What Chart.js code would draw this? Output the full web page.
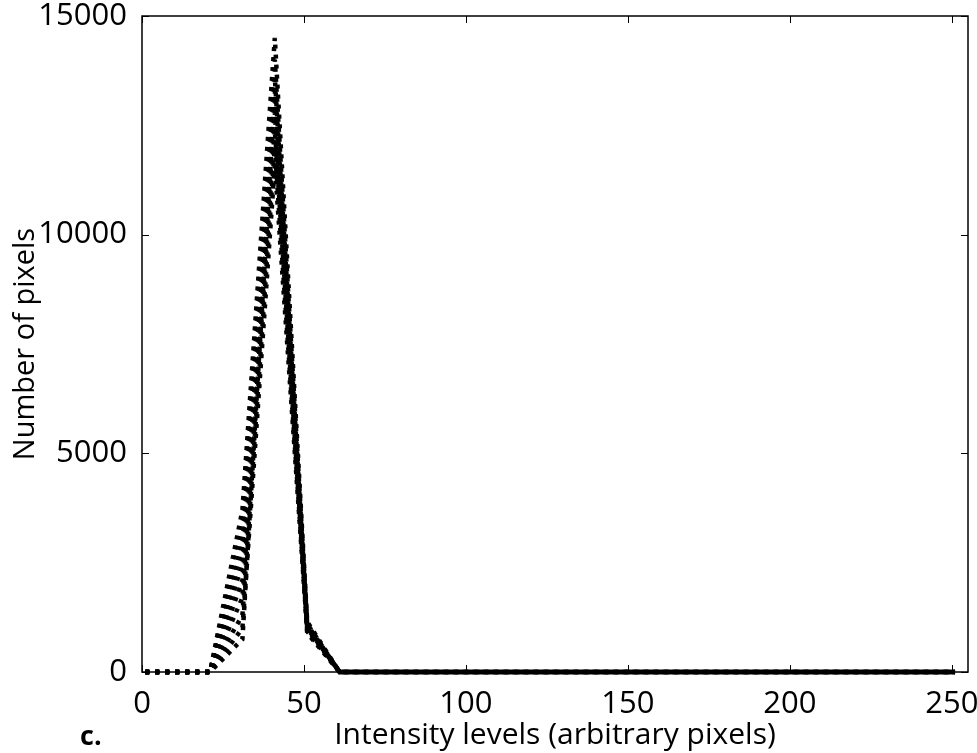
<!DOCTYPE html>
<html>
<head>
<meta charset="utf-8">
<script src="https://cdn.jsdelivr.net/npm/chart.js@4.4.0/dist/chart.umd.min.js"></script>
<style>
  body { margin: 0; background: #fff; }
  #wrap { position: relative; width: 977px; height: 753px; overflow: hidden; }
  #tag { position: absolute; left: 80px; top: 716px; font: bold 27px "Open Sans", sans-serif; color: #000; }
</style>
</head>
<body>
<div id="wrap">
  <canvas id="histChart" width="977" height="753"></canvas>
  <div id="tag">c.</div>
</div>
<script>
// intensity bins (x)
const levels = [1, 11, 21, 31, 41, 51, 61, 71, 81, 91, 101, 111, 121, 131, 141, 151, 161, 171, 181, 191, 201, 211, 221, 231, 241, 251];

// pixel counts per bin, one array per image
const img1 = [0, 0, 0, 3700, 14500, 1150, 0, 0, 0, 0, 0, 0, 0, 0, 0, 0, 0, 0, 0, 0, 0, 0, 0, 0, 0, 0];
const img2 = [0, 0, 0, 3300, 14000, 1100, 0, 0, 0, 0, 0, 0, 0, 0, 0, 0, 0, 0, 0, 0, 0, 0, 0, 0, 0, 0];
const img3 = [0, 0, 0, 2900, 13600, 1080, 0, 0, 0, 0, 0, 0, 0, 0, 0, 0, 0, 0, 0, 0, 0, 0, 0, 0, 0, 0];
const img4 = [0, 0, 0, 2500, 13200, 1050, 0, 0, 0, 0, 0, 0, 0, 0, 0, 0, 0, 0, 0, 0, 0, 0, 0, 0, 0, 0];
const img5 = [0, 0, 0, 2100, 12800, 1020, 0, 0, 0, 0, 0, 0, 0, 0, 0, 0, 0, 0, 0, 0, 0, 0, 0, 0, 0, 0];
const img6 = [0, 0, 0, 1700, 12400, 1000, 0, 0, 0, 0, 0, 0, 0, 0, 0, 0, 0, 0, 0, 0, 0, 0, 0, 0, 0, 0];
const img7 = [0, 0, 0, 1300, 12000, 960, 0, 0, 0, 0, 0, 0, 0, 0, 0, 0, 0, 0, 0, 0, 0, 0, 0, 0, 0, 0];
const img8 = [0, 0, 0, 1000, 11600, 930, 0, 0, 0, 0, 0, 0, 0, 0, 0, 0, 0, 0, 0, 0, 0, 0, 0, 0, 0, 0];
const img9 = [0, 0, 0, 750, 13300, 890, 0, 0, 0, 0, 0, 0, 0, 0, 0, 0, 0, 0, 0, 0, 0, 0, 0, 0, 0, 0];

const xTicks = [0, 50, 100, 150, 200, 250];
const yTicks = [0, 5000, 10000, 15000];

const fontFace = '"Open Sans", sans-serif';

function toPoints(vals) {
  return vals.map((v, i) => ({ x: levels[i], y: v }));
}

function dotted(vals) {
  return {
    data: toPoints(vals),
    borderColor: '#000',
    borderWidth: 4.5,
    borderDash: [4, 6],
    borderCapStyle: 'butt',
    pointRadius: 0,
    fill: false,
    tension: 0,
    clip: false
  };
}

// MATLAB-style box with inward ticks on every side
const boxTicks = {
  id: 'boxTicks',
  afterDatasetsDraw(chart) {
    const { ctx, chartArea: a, scales: { x, y } } = chart;
    const len = 7;
    ctx.save();
    ctx.strokeStyle = '#000';
    ctx.lineWidth = 1.5;
    ctx.strokeRect(a.left, a.top, a.right - a.left, a.bottom - a.top);
    ctx.lineWidth = 1;
    ctx.beginPath();
    xTicks.forEach(t => {
      const px = Math.round(x.getPixelForValue(t)) + 0.5;
      ctx.moveTo(px, a.bottom); ctx.lineTo(px, a.bottom - len);
      ctx.moveTo(px, a.top); ctx.lineTo(px, a.top + len);
    });
    yTicks.forEach(t => {
      const py = Math.round(y.getPixelForValue(t)) + 0.5;
      ctx.moveTo(a.left, py); ctx.lineTo(a.left + len, py);
      ctx.moveTo(a.right, py); ctx.lineTo(a.right - len, py);
    });
    ctx.stroke();
    ctx.restore();
  }
};

const ctx = document.getElementById('histChart').getContext('2d');
const chart = new Chart(ctx, {
  type: 'line',
  data: {
    datasets: [img1, img2, img3, img4, img5, img6, img7, img8, img9].map(dotted)
  },
  options: {
    responsive: false,
    animation: false,
    layout: { padding: { left: 8, right: 9, top: 16, bottom: 0 } },
    plugins: {
      legend: { display: false },
      tooltip: { enabled: false }
    },
    scales: {
      x: {
        type: 'linear',
        min: 0,
        max: 255,
        grid: { display: false },
        border: { display: false },
        ticks: {
          stepSize: 50,
          includeBounds: false,
          maxRotation: 0,
          padding: 6,
          color: '#000',
          font: { family: fontFace, size: 31 }
        },
        title: {
          display: true,
          text: 'Intensity levels (arbitrary pixels)',
          color: '#000',
          font: { family: fontFace, size: 30 },
          padding: { top: 0, bottom: 0 }
        },
        afterFit(scale) {
          scale.height = 753 - 672;
          scale.paddingLeft = 0;
          scale.paddingRight = 0;
        }
      },
      y: {
        min: 0,
        max: 15000,
        grid: { display: false },
        border: { display: false },
        ticks: {
          stepSize: 5000,
          padding: 7,
          color: '#000',
          font: { family: fontFace, size: 31 },
          callback: v => String(v)
        },
        title: {
          display: true,
          text: 'Number of pixels',
          color: '#000',
          font: { family: fontFace, size: 29 },
          padding: { top: 0, bottom: 0 }
        },
        afterFit(scale) {
          scale.width = 142 - 8;
          scale.paddingTop = 0;
          scale.paddingBottom = 0;
        }
      }
    }
  },
  plugins: [boxTicks]
});
</script>
</body>
</html>
